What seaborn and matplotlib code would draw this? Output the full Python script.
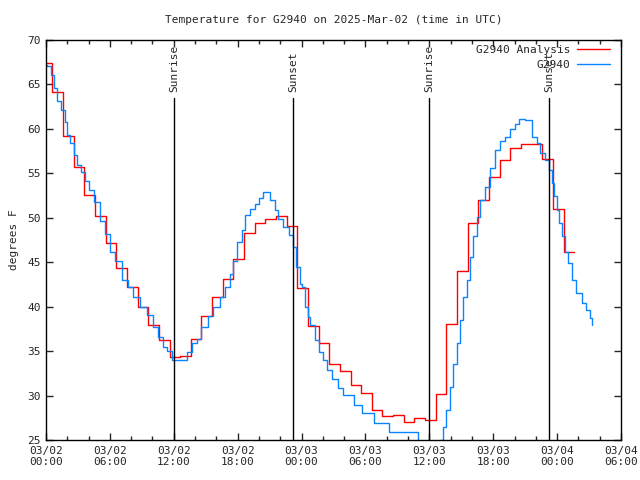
import pandas as pd
import matplotlib
matplotlib.use("Agg")
import matplotlib.pyplot as plt
import matplotlib.dates as mdates
import seaborn as sns

# hourly analysis values (each one holds from hh-0:24 to hh+0:36)
analysis_temp = [67.4, 64.1, 59.2, 55.7, 52.6, 50.2, 47.2, 44.4, 42.2, 40.0,
                 37.9, 36.2, 34.3, 34.4, 36.4, 38.9, 41.1, 43.1, 45.4, 48.3,
                 49.4, 49.9, 50.2, 49.1, 42.1, 37.8, 35.9, 33.5, 32.8, 31.2,
                 30.3, 28.4, 27.7, 27.8, 27.0, 27.5, 27.3, 30.2, 38.0, 44.0,
                 49.4, 52.0, 54.6, 56.5, 57.8, 58.3, 58.3, 56.6, 51.0, 46.1, 46.2]
analysis_hour = [h - 0.4 for h in range(50)] + [49.6]

# station observations (hours since 03/02 00:00 UTC)
obs_hour = [0.0, 0.1, 0.44, 0.75, 1.0, 1.38, 1.75, 1.94, 2.25, 2.63, 2.88, 3.26,
            3.63, 4.04, 4.5, 5.07, 5.54, 6.0, 6.48, 7.1, 7.73, 8.2, 8.83, 9.45,
            10.08, 10.55, 11.0, 11.4, 11.8, 12.96, 13.2, 13.7, 14.15, 14.6,
            15.25, 15.7, 16.3, 16.8, 17.3, 17.6, 17.9, 18.4, 18.7, 19.2, 19.6,
            20.0, 20.4, 21.0, 21.5, 21.8, 22.3, 22.85, 23.2, 23.5, 23.85, 24.0,
            24.3, 24.6, 24.8, 25.3, 25.6, 26.0, 26.35, 26.9, 27.45, 27.9, 28.9,
            29.7, 30.8, 32.25, 34.9, 35.5, 36.3, 37.0, 37.3, 37.6, 37.9, 38.25,
            38.6, 38.9, 39.2, 39.5, 39.8, 40.1, 40.45, 40.8, 41.2, 41.7, 42.2,
            42.6, 43.1, 43.6, 44.0, 44.4, 45.0, 45.3, 45.6, 46.1, 46.4, 46.9,
            47.2, 47.5, 47.7, 47.95, 48.2, 48.5, 48.7, 49.05, 49.4, 49.8, 50.3,
            50.7, 51.1, 51.3]
obs_temp = [67.2, 67.1, 66.1, 64.6, 63.1, 62.1, 60.8, 59.3, 58.4, 57.1, 55.9, 55.2,
            54.1, 53.1, 51.8, 49.6, 48.2, 46.2, 45.1, 43.0, 42.2, 41.1, 40.0, 39.1,
            37.7, 36.6, 35.5, 35.0, 34.0, 34.0, 34.9, 35.9, 36.4, 37.7,
            38.9, 40.0, 41.1, 42.2, 43.7, 45.1, 47.3, 48.6, 50.3, 51.0, 51.6,
            52.2, 52.9, 52.0, 50.9, 49.9, 49.0, 48.1, 46.7, 44.5, 42.6, 42.2,
            40.0, 38.8, 37.9, 36.25, 34.9, 34.0, 32.9, 31.9, 30.8, 30.1, 28.9,
            28.0, 26.9, 25.9, 24.6, 23.8, 23.5, 25.0, 26.5, 28.4, 31.0, 33.6,
            35.9, 38.5, 41.1, 43.0, 45.6, 47.9, 50.1, 52.0, 53.5, 55.6, 57.6,
            58.6, 59.1, 60.0, 60.6, 61.1, 61.0, 61.0, 59.1, 58.4, 57.3, 56.5,
            55.4, 53.9, 52.4, 50.9, 49.4, 47.9, 46.2, 44.9, 43.0, 41.5, 40.4,
            39.6, 38.7, 37.9]

sun_events = ["Sunrise", "Sunset", "Sunrise", "Sunset"]
sun_hour = [12.02, 23.22, 35.97, 47.25]

start = pd.Timestamp("2025-03-02 00:00")
analysis = pd.DataFrame({"time": start + pd.to_timedelta(analysis_hour, unit="h"),
                         "temp": analysis_temp})
obs = pd.DataFrame({"time": start + pd.to_timedelta(obs_hour, unit="h"),
                    "temp": obs_temp})

sns.set_style("ticks")
plt.rcParams["font.family"] = ["DejaVu Sans Mono"]
plt.rcParams["font.size"] = 8

fig = plt.figure(figsize=(6.4, 4.8), dpi=100)
ax = fig.add_axes([46 / 640, 40 / 480, 575 / 640, 400 / 480])

sns.lineplot(data=analysis, x="time", y="temp", ax=ax, color="red", lw=1.0,
             drawstyle="steps-post", label="G2940 Analysis")
sns.lineplot(data=obs, x="time", y="temp", ax=ax, color="#0a84ff", lw=1.0,
             drawstyle="steps-post", label="G2940")

for name, h in zip(sun_events, sun_hour):
    t = start + pd.Timedelta(hours=h)
    ax.plot([t, t], [25, 63.5], color="black", lw=1.0)
    ax.text(t, 64.1, name, rotation=90, ha="center", va="bottom", fontsize=8)

ax.set_xlim(start, start + pd.Timedelta(hours=54))
ax.set_ylim(25, 70)
ax.set_yticks(range(25, 71, 5))
ax.xaxis.set_major_locator(mdates.HourLocator(byhour=[0, 6, 12, 18]))
ax.xaxis.set_minor_locator(mdates.HourLocator(byhour=range(0, 24, 2)))
ax.xaxis.set_major_formatter(mdates.DateFormatter("%m/%d\n%H:%M"))
ax.tick_params(direction="in", top=True, right=True, length=5, width=1, pad=4)
ax.tick_params(which="minor", direction="in", top=True, length=3, width=1)
for s in ax.spines.values():
    s.set_linewidth(1.0)
    s.set_color("black")

ax.set_xlabel("")
ax.set_ylabel("degrees F", labelpad=6)
ax.set_title("Temperature for G2940 on 2025-Mar-02 (time in UTC)", fontsize=8, pad=12)

ax.legend(loc="upper right", bbox_to_anchor=(0.993, 1.005), frameon=False,
          markerfirst=False, handlelength=3.0, handletextpad=0.6,
          labelspacing=0.45, borderaxespad=0.2, fontsize=8)

fig.savefig("out.png", dpi=100)
